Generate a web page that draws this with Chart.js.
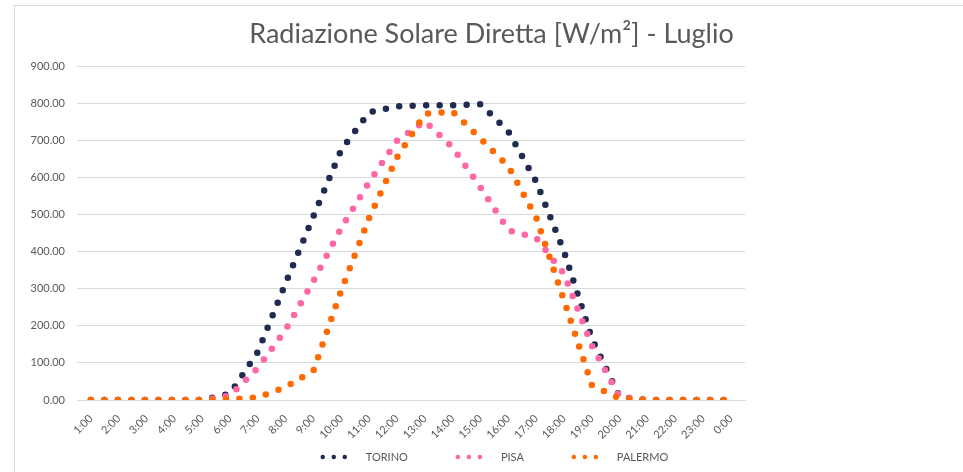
<!DOCTYPE html>
<html>
<head>
<meta charset="utf-8">
<title>Radiazione Solare Diretta - Luglio</title>
<script src="https://cdn.jsdelivr.net/npm/chart.js@4.4.1/dist/chart.umd.min.js"></script>
<style>
    html, body { margin: 0; padding: 0; background: #fff; overflow: hidden; }
    #wrap { position: relative; width: 963px; height: 472px; }
    #frame { position: absolute; left: 14px; top: 5px; right: -2px; bottom: -2px; border-left: 1px solid #d9d9d9; border-top: 1px solid #d9d9d9; }
    #radiazione { position: absolute; left: 0; top: 0; }
</style>
</head>
<body>
<div id="wrap">
    <div id="frame"></div>
    <canvas id="radiazione" width="963" height="472"></canvas>
</div>
<script>
// ore del giorno
const ore = ['1:00', '2:00', '3:00', '4:00', '5:00', '6:00', '7:00', '8:00', '9:00', '10:00', '11:00', '12:00',
    '13:00', '14:00', '15:00', '16:00', '17:00', '18:00', '19:00', '20:00', '21:00', '22:00', '23:00', '0:00'];

// radiazione diretta [W/m2]
const torino = [0, 0, 0, 0, 0, 17, 130, 316, 497, 676, 776, 792, 795, 795, 798, 724, 589, 400, 165, 8, 0, 0, 0, 0];
const pisa = [0, 0, 0, 0, 0, 12, 87, 190, 322, 465, 588, 700, 752, 681, 573, 458, 437, 340, 146, 8, 0, 0, 0, 0];
const palermo = [0, 0, 0, 0, 0, 2, 7, 35, 80, 297, 492, 655, 772, 778, 705, 630, 492, 268, 40, 4, 0, 0, 0, 0];

const citta = ['TORINO', 'PISA', 'PALERMO'];
const colori = ['#1f2b4f', '#ff66a6', '#ff6a00'];

const testo = '#595959';
const griglia = '#d9d9d9';

function serie(label, data, colore, ordine) {
    return {
        label: label,
        data: data,
        borderColor: colore,
        backgroundColor: colore,
        borderWidth: 6.5,
        borderDash: [0, 13.5],
        borderCapStyle: 'round',
        pointRadius: 0,
        pointHoverRadius: 0,
        tension: 0,
        fill: false,
        order: ordine
    }
}

// legenda a puntini sotto al grafico
const legendaPuntini = {
    id: 'legendaPuntini',
    afterDraw(chart) {
        const ctx = chart.ctx;
        const y = 457;
        const sample = 33;
        const gap = 10;
        const spazio = 50;
        ctx.save();
        ctx.font = '11px Lato';
        let widths = chart.data.datasets.map(ds => ctx.measureText(ds.label).width);
        let total = 0;
        widths.forEach((w, i) => {
            total += sample + gap + w + (i < widths.length - 1 ? spazio : 0);
        });
        let x = (20 + chart.width) / 2 - total / 2 + 4;
        chart.data.datasets.forEach((ds, i) => {
            ctx.beginPath();
            ctx.setLineDash([0, 11]);
            ctx.lineCap = 'round';
            ctx.lineWidth = 4.5;
            ctx.strokeStyle = ds.borderColor;
            ctx.moveTo(x, y);
            ctx.lineTo(x + sample, y);
            ctx.stroke();
            ctx.setLineDash([]);
            ctx.fillStyle = testo;
            ctx.textBaseline = 'middle';
            ctx.textAlign = 'left';
            ctx.fillText(ds.label, x + sample + gap, y);
            x += sample + gap + widths[i] + spazio;
        });
        ctx.restore();
    }
};

let chart = new Chart(document.getElementById('radiazione'), {
    type: 'line',
    data: {
        labels: ore,
        datasets: [
            serie(citta[0], torino, colori[0], 3),
            serie(citta[1], pisa, colori[1], 2),
            serie(citta[2], palermo, colori[2], 1)
        ]
    },
    options: {
        responsive: false,
        animation: false,
        devicePixelRatio: 1,
        layout: {
            padding: {left: 20, right: 0, top: 0, bottom: 25}
        },
        plugins: {
            legend: {display: false},
            tooltip: {enabled: false},
            title: {
                display: true,
                text: 'Radiazione Solare Diretta [W/m²] - Luglio',
                color: testo,
                font: {family: 'Lato', size: 27, weight: 'normal'},
                padding: {top: 18, bottom: 16}
            }
        },
        scales: {
            x: {
                offset: true,
                grid: {display: false},
                border: {display: true, color: griglia},
                ticks: {
                    color: testo,
                    font: {family: 'Lato', size: 11},
                    maxRotation: 45,
                    minRotation: 45,
                    autoSkip: false,
                    padding: 4
                },
                afterFit(s) {
                    s.height = 47;
                }
            },
            y: {
                min: 0,
                max: 900,
                grid: {color: griglia, drawTicks: false},
                border: {display: false},
                ticks: {
                    stepSize: 100,
                    color: testo,
                    font: {family: 'Lato', size: 11},
                    padding: 12,
                    callback: v => v.toFixed(2)
                },
                afterFit(s) {
                    s.width = 57;
                }
            },
            vuoto: {
                type: 'linear',
                position: 'right',
                display: true,
                grid: {display: false},
                border: {display: false},
                ticks: {display: false},
                afterFit(s) {
                    s.width = 218;
                }
            }
        }
    },
    plugins: [legendaPuntini]
});
</script>
</body>
</html>
